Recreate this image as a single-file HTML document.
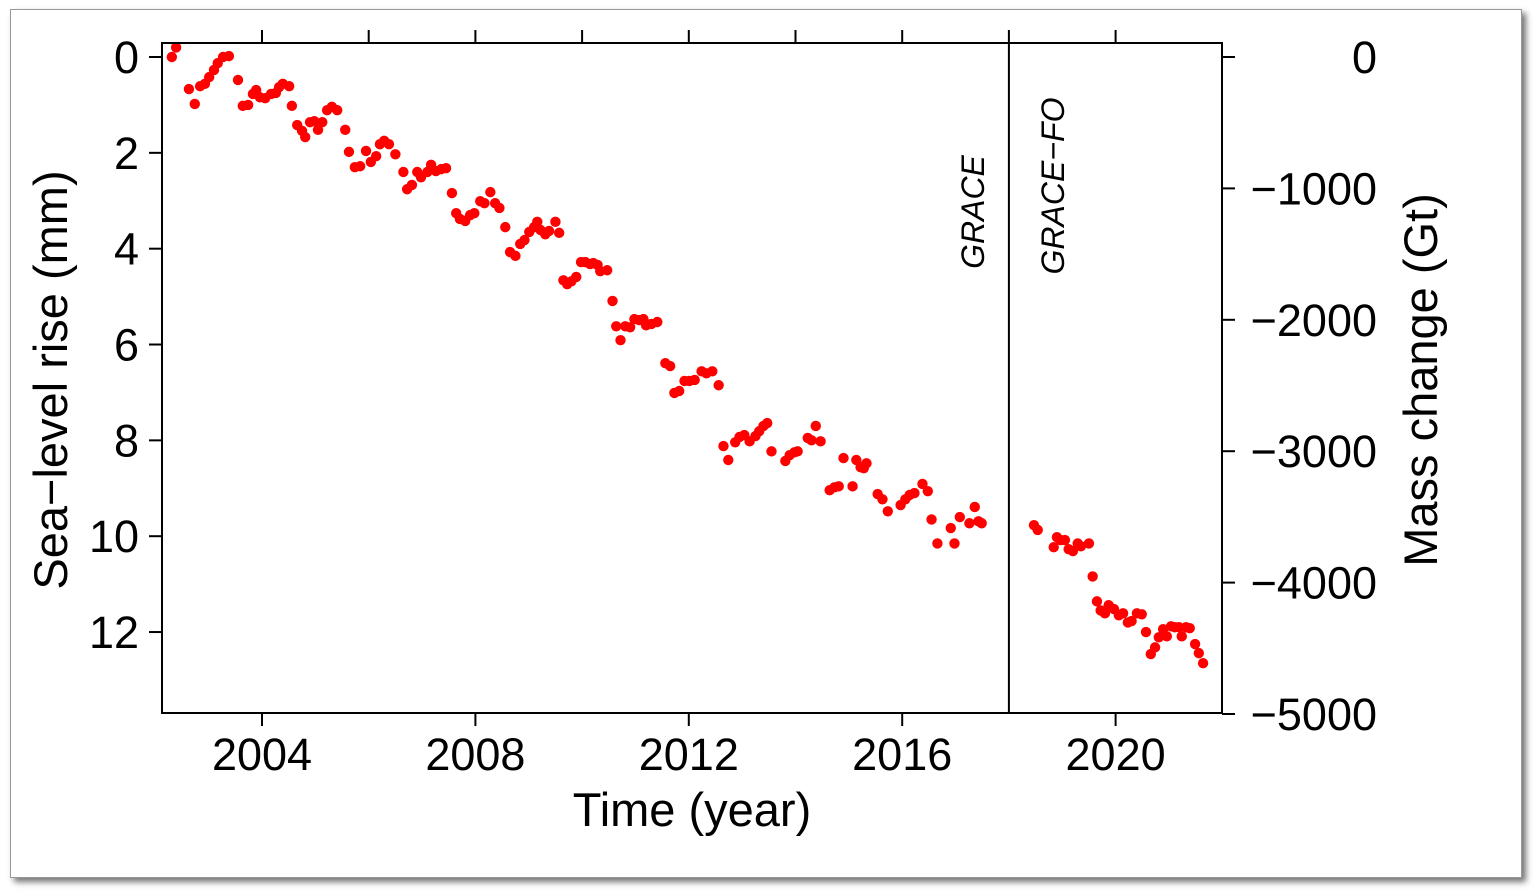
<!DOCTYPE html>
<html><head><meta charset="utf-8"><style>
body{margin:0;background:#fff;width:1536px;height:892px;overflow:hidden}
#frame{position:absolute;left:10px;top:9px;width:1510px;height:867px;border:1px solid #999;box-shadow:4px 4px 6px rgba(0,0,0,0.55);background:#fff}
svg{position:absolute;left:0;top:0}
text{font-family:"Liberation Sans",sans-serif;fill:#000}
</style></head><body>
<div id="frame"></div>
<svg id="chart" width="1536" height="892"></svg>
<script>
const years=[2002.31,2002.39,2002.63,2002.74,2002.84,2002.93,2003.01,2003.10,2003.17,2003.27,2003.38,2003.55,2003.64,2003.74,2003.83,2003.89,2003.96,2004.06,2004.17,2004.26,2004.32,2004.39,2004.51,2004.56,2004.66,2004.75,2004.81,2004.90,2004.98,2005.05,2005.13,2005.22,2005.31,2005.41,2005.56,2005.63,2005.74,2005.84,2005.95,2006.04,2006.14,2006.21,2006.29,2006.38,2006.50,2006.65,2006.72,2006.81,2006.91,2006.98,2007.10,2007.17,2007.26,2007.36,2007.45,2007.56,2007.64,2007.71,2007.81,2007.90,2007.98,2008.09,2008.17,2008.28,2008.37,2008.45,2008.56,2008.65,2008.75,2008.84,2008.92,2009.01,2009.10,2009.16,2009.22,2009.31,2009.38,2009.50,2009.57,2009.65,2009.72,2009.80,2009.89,2009.98,2010.06,2010.15,2010.21,2010.29,2010.34,2010.47,2010.57,2010.64,2010.72,2010.81,2010.90,2010.98,2011.07,2011.15,2011.20,2011.30,2011.41,2011.56,2011.65,2011.73,2011.82,2011.92,2012.01,2012.11,2012.24,2012.33,2012.44,2012.56,2012.65,2012.74,2012.87,2012.95,2013.04,2013.14,2013.25,2013.32,2013.40,2013.47,2013.55,2013.81,2013.89,2013.98,2014.04,2014.23,2014.30,2014.38,2014.47,2014.64,2014.73,2014.81,2014.90,2015.07,2015.14,2015.22,2015.28,2015.33,2015.54,2015.63,2015.73,2015.97,2016.06,2016.14,2016.23,2016.38,2016.48,2016.55,2016.66,2016.91,2016.98,2017.08,2017.26,2017.36,2017.43,2017.49,
2018.47,2018.54,2018.84,2018.90,2018.97,2019.05,2019.12,2019.20,2019.29,2019.35,2019.50,2019.57,2019.65,2019.72,2019.80,2019.87,2019.97,2020.06,2020.14,2020.23,2020.30,2020.40,2020.49,2020.57,2020.66,2020.74,2020.81,2020.89,2020.96,2021.04,2021.11,2021.19,2021.24,2021.32,2021.39,2021.49,2021.56,2021.64];
const seaLevelMm=[0.0,-0.2,0.67,0.98,0.61,0.56,0.42,0.27,0.13,0.0,-0.02,0.48,1.02,1.00,0.77,0.69,0.84,0.86,0.77,0.75,0.63,0.56,0.61,1.02,1.42,1.54,1.67,1.36,1.34,1.52,1.36,1.11,1.04,1.11,1.52,1.98,2.30,2.28,1.96,2.19,2.07,1.82,1.75,1.82,2.03,2.40,2.76,2.67,2.40,2.51,2.40,2.25,2.38,2.34,2.32,2.84,3.26,3.38,3.42,3.30,3.26,3.01,3.05,2.82,3.05,3.15,3.55,4.07,4.15,3.90,3.82,3.65,3.55,3.44,3.61,3.70,3.63,3.44,3.67,4.66,4.74,4.68,4.59,4.28,4.28,4.32,4.30,4.34,4.47,4.45,5.09,5.62,5.91,5.62,5.64,5.47,5.49,5.47,5.60,5.57,5.53,6.39,6.45,7.01,6.97,6.76,6.76,6.74,6.56,6.60,6.56,6.85,8.12,8.41,8.04,7.93,7.89,8.02,7.91,7.81,7.70,7.64,8.23,8.43,8.31,8.25,8.23,7.95,8.00,7.70,8.02,9.04,8.98,8.96,8.37,8.96,8.41,8.56,8.58,8.48,9.12,9.23,9.48,9.35,9.23,9.14,9.10,8.91,9.06,9.65,10.15,9.83,10.15,9.60,9.73,9.39,9.69,9.73,
9.77,9.87,10.23,10.02,10.08,10.08,10.27,10.31,10.15,10.21,10.15,10.84,11.36,11.55,11.61,11.44,11.52,11.65,11.61,11.80,11.77,11.61,11.63,12.00,12.46,12.32,12.11,11.94,12.09,11.88,11.90,11.90,12.09,11.90,11.92,12.25,12.44,12.65];
const leftTicks=[0,2,4,6,8,10,12];
const rightTicks=[0,-1000,-2000,-3000,-4000,-5000];
const rightTickLabels=["0","\u22121000","\u22122000","\u22123000","\u22124000","\u22125000"];
const topTicks=[2004,2006,2008,2010,2012,2014,2016,2018,2020];
const bottomTicks=[2004,2008,2012,2016,2020];
const missionSplit=2018;

const L=162,R=1222,T=43,B=713;
const xs=y=>262+(y-2004)*53.35;
const ys=m=>57+m*47.92;
const yg=g=>57-g*0.1314;
const svg=document.getElementById('chart');
const NS='http://www.w3.org/2000/svg';
function mk(tag,attrs,parent){const e=document.createElementNS(NS,tag);for(const k in attrs)e.setAttribute(k,attrs[k]);(parent||svg).appendChild(e);return e;}

const pts=mk('g',{});


years.forEach((yr,i)=>{const c=mk('circle',{cx:xs(yr),cy:ys(seaLevelMm[i]),r:5.2,fill:'#ff0000'},pts);

});

const box=mk('rect',{x:L,y:T,width:R-L,height:B-T,fill:'none',stroke:'#000','stroke-width':2});


const vl=mk('line',{x1:xs(missionSplit),x2:xs(missionSplit),y1:T,y2:B,stroke:'#000','stroke-width':2});



leftTicks.forEach(v=>{const y=ys(v);mk('line',{x1:L-13,x2:L,y1:y,y2:y,stroke:'#000','stroke-width':2});
const t=mk('text',{x:139,y:y+16,'font-size':45,'text-anchor':'end'});t.textContent=v;

});
rightTicks.forEach((v,i)=>{const y=yg(v);mk('line',{x1:R,x2:R+13,y1:y,y2:y,stroke:'#000','stroke-width':2});
const t=mk('text',{x:1377,y:y+16,'font-size':45,'text-anchor':'end'});t.textContent=rightTickLabels[i];

});
topTicks.forEach(v=>{const x=xs(v);mk('line',{x1:x,x2:x,y1:T-13,y2:T,stroke:'#000','stroke-width':2});});
bottomTicks.forEach(v=>{const x=xs(v);mk('line',{x1:x,x2:x,y1:B,y2:B+13,stroke:'#000','stroke-width':2});
const t=mk('text',{x:x,y:770,'font-size':45,'text-anchor':'middle'});t.textContent=v;

});

function lbl(txt,attrs,name){const t=mk('text',attrs);t.textContent=txt;

return t;}
lbl('Time (year)',{x:692,y:826,'font-size':47,'text-anchor':'middle'},'x-axis-title');
lbl('Sea\u2212level rise (mm)',{x:0,y:0,'font-size':47,'text-anchor':'middle',transform:'translate(67,380) rotate(-90)'},'left-axis-title');
lbl('Mass change (Gt)',{x:0,y:0,'font-size':47,'text-anchor':'middle',transform:'translate(1437,380) rotate(-90)'},'right-axis-title');
lbl('GRACE',{x:0,y:0,'font-size':32,'font-style':'italic','text-anchor':'middle',transform:'translate(984,212) rotate(-90)'},'grace-label');
lbl('GRACE\u2212FO',{x:0,y:0,'font-size':32,'font-style':'italic','text-anchor':'middle',transform:'translate(1064,186) rotate(-90)'},'grace-fo-label');
</script>
</body></html>
